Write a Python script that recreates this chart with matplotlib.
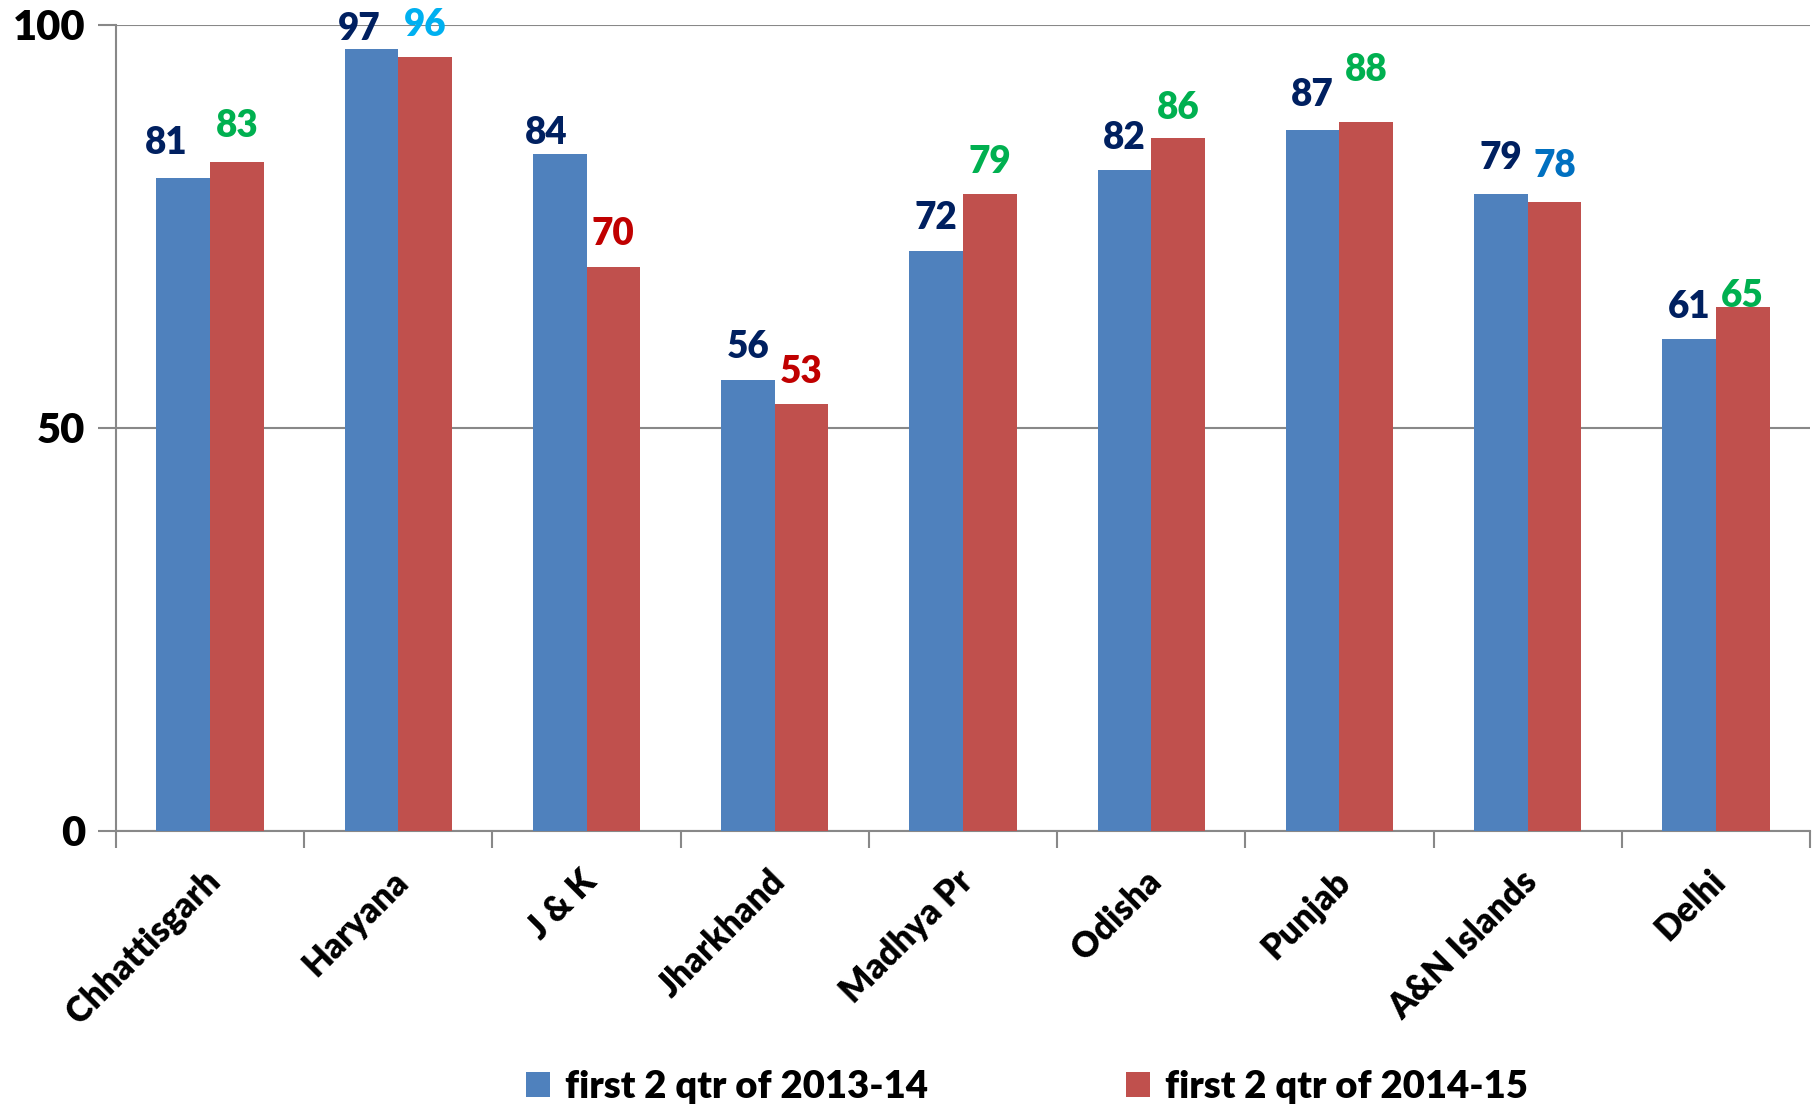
import matplotlib.pyplot as plt
import numpy as np

states = ["Chhattisgarh", "Haryana", "J & K", "Jharkhand", "Madhya Pr",
          "Odisha", "Punjab", "A&N Islands", "Delhi"]
q_2013 = [81, 97, 84, 56, 72, 82, 87, 79, 61]
q_2014 = [83, 96, 70, 53, 79, 86, 88, 78, 65]

lab_2013_color = "#002060"
lab_2014_colors = ["#00B050", "#00B0F0", "#C00000", "#C00000", "#00B050",
                   "#00B050", "#00B050", "#0070C0", "#00B050"]
# hand-placed labels in the original, (dx, dy) nudge in points
nudge_2013 = {0: (-12, 2), 1: (-9, -9), 2: (-10, -8), 6: (0, 2), 7: (0, 3)}
nudge_2014 = {0: (0, 3), 3: (0, 0), 5: (0, -2), 6: (0, 14), 7: (0, 3), 8: (0, -15)}

plt.rcParams['font.family'] = ['Lato', 'DejaVu Sans']
FW = "heavy"

fig = plt.figure(figsize=(18.18, 11.10), dpi=100)
ax = fig.add_axes([0.0638, 0.2514, 0.9318, 0.7261])

x = np.arange(len(states))
w = 0.285
ax.bar(x - w / 2, q_2013, w, color="#4F81BD", label="first 2 qtr of 2013-14", zorder=3)
ax.bar(x + w / 2, q_2014, w, color="#C0504D", label="first 2 qtr of 2014-15", zorder=3)

for i in range(len(states)):
    dx, dy = nudge_2013.get(i, (0, 0))
    ax.annotate(str(q_2013[i]), (x[i] - w / 2, q_2013[i]),
                xytext=(dx, 11 + dy), textcoords="offset points",
                ha="center", va="bottom", fontsize=26.5, fontweight=FW,
                color=lab_2013_color, zorder=5, annotation_clip=False)
    dx, dy = nudge_2014.get(i, (0, 0))
    ax.annotate(str(q_2014[i]), (x[i] + w / 2, q_2014[i]),
                xytext=(dx, 11 + dy), textcoords="offset points",
                ha="center", va="bottom", fontsize=26.5, fontweight=FW,
                color=lab_2014_colors[i], zorder=5, annotation_clip=False)

ax.set_xlim(-0.5, len(states) - 0.5)
ax.set_ylim(0, 100)
ax.set_yticks([0, 50, 100])
ax.set_yticklabels(["0", "50", "100"], fontsize=30, fontweight=FW)
ax.tick_params(axis="y", length=13, width=1.5, color="#888888", pad=9)
ax.yaxis.grid(True, color="#888888", linewidth=1.5, zorder=0)

ax.set_xticks(np.arange(-0.5, len(states), 1))
ax.set_xticklabels([])
ax.tick_params(axis="x", length=12, width=1.5, color="#888888")

for i, name in enumerate(states):
    ax.annotate(name, (x[i], 0), xycoords=("data", "axes fraction"),
                xytext=(-5, -24), textcoords="offset points",
                rotation=45, ha="right", va="top", rotation_mode="anchor",
                fontsize=25, fontweight=FW, annotation_clip=False)

for s in ["top", "right"]:
    ax.spines[s].set_visible(False)
for s in ["left", "bottom"]:
    ax.spines[s].set_color("#888888")
    ax.spines[s].set_linewidth(1.5)

fig.legend(loc="center", bbox_to_anchor=(0.565, 0.021), ncol=2, frameon=False,
           prop={"size": 27.5, "weight": FW}, handlelength=0.62, handleheight=0.62,
           handletextpad=0.4, columnspacing=5.2)

fig.savefig("out.png", dpi=100)
